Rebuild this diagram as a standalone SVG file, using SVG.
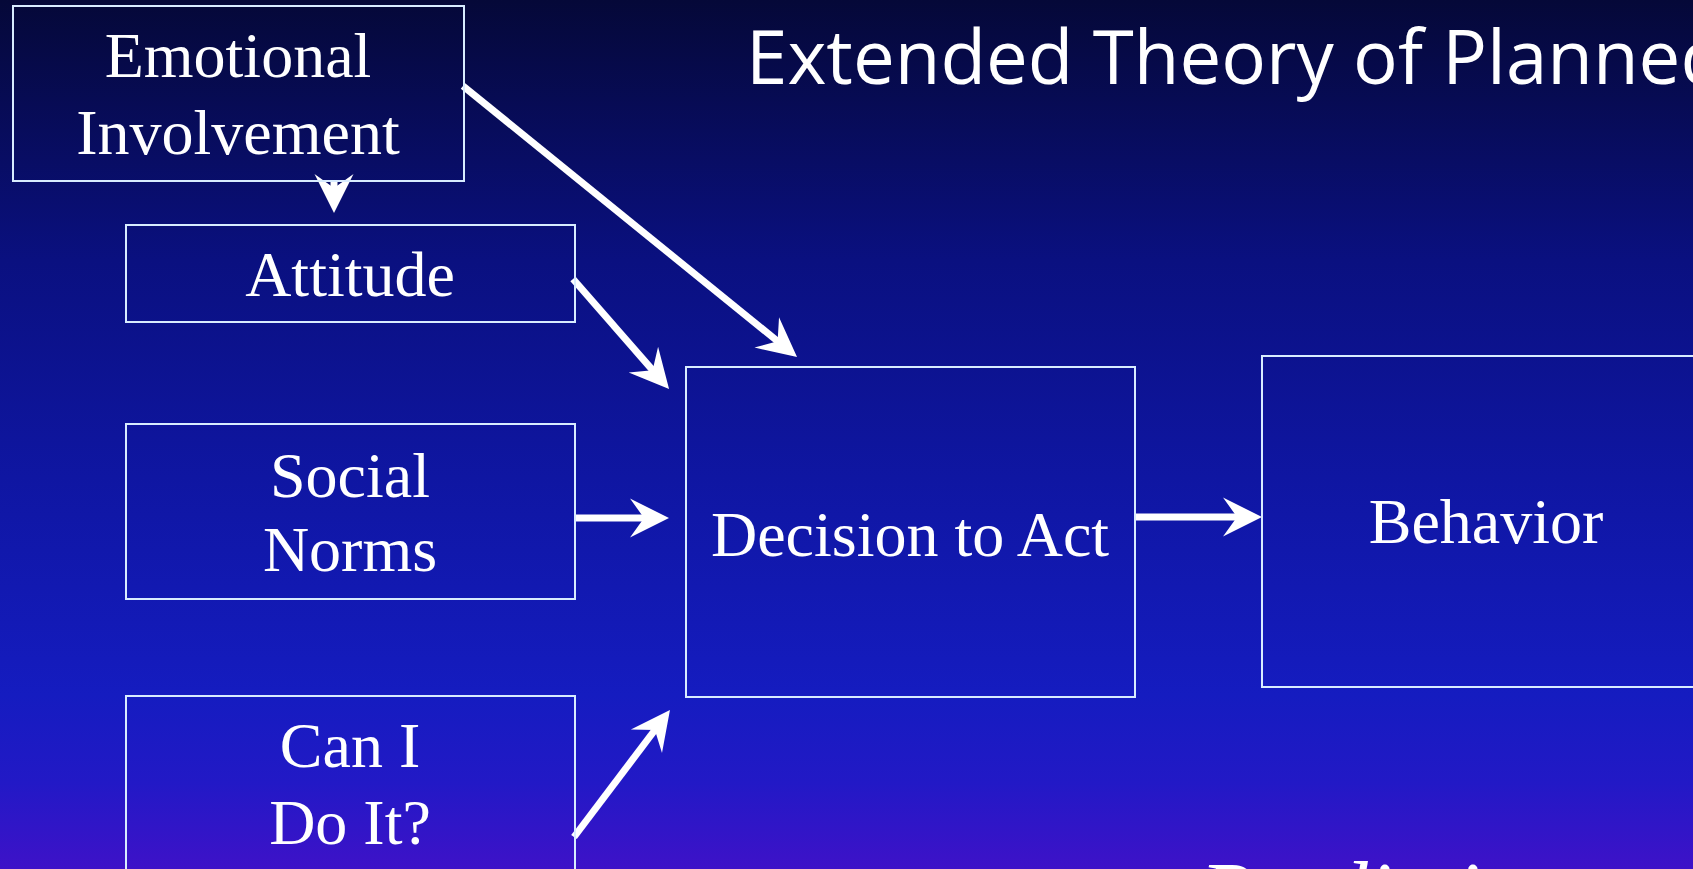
<svg xmlns="http://www.w3.org/2000/svg" width="1693" height="869" viewBox="0 0 1693 869">
  <defs>
    <linearGradient id="bg" x1="0" y1="0" x2="0" y2="1">
      <stop offset="0" stop-color="#050838"/>
      <stop offset="0.3" stop-color="#0a1080"/>
      <stop offset="0.55" stop-color="#0f16a2"/>
      <stop offset="0.8" stop-color="#151cc0"/>
      <stop offset="0.9" stop-color="#2219c6"/>
      <stop offset="1" stop-color="#3e12c8"/>
    </linearGradient>
    <marker id="ah" markerUnits="userSpaceOnUse" markerWidth="60" markerHeight="60" viewBox="-30 -30 60 60" refX="0" refY="0" orient="auto" overflow="visible">
      <path d="M20,0 L-19,-19.5 L-5,0 L-19,19.5 Z" fill="#ffffff"/>
    </marker>
  </defs>
  <style>
    .box { fill: none; stroke: #d8ecff; stroke-width: 2; }
    .lbl { font-family: "Liberation Serif", "Times New Roman", serif; font-size: 64px; fill: #ffffff; text-anchor: middle; }
    .title { font-family: "Open Sans", "Noto Sans", sans-serif; font-size: 75px; fill: #ffffff; }
    .conn { stroke: #ffffff; stroke-width: 7; fill: none; marker-end: url(#ah); }
    .bottom { font-family: "Liberation Serif", "Times New Roman", serif; font-style: italic; font-size: 88px; fill: #ffffff; }
  </style>
  <rect x="0" y="0" width="1693" height="869" fill="url(#bg)"/>

  <text class="title" x="746" y="84" textLength="980" lengthAdjust="spacingAndGlyphs">Extended Theory of Planned</text>

  <g id="connectors">
    <line class="conn" x1="334" y1="181" x2="334" y2="193"/>
    <line class="conn" x1="463" y1="86" x2="781.5" y2="344.4"/>
    <line class="conn" x1="573" y1="279" x2="655.9" y2="373.9"/>
    <line class="conn" x1="575" y1="518" x2="649" y2="518"/>
    <line class="conn" x1="574" y1="837" x2="657.9" y2="726"/>
    <line class="conn" x1="1136" y1="517" x2="1242" y2="517"/>
  </g>

  <g id="emotional">
    <rect class="box" x="13" y="6" width="451" height="175"/>
    <text class="lbl" x="238" y="77">Emotional</text>
    <text class="lbl" x="238" y="154">Involvement</text>
  </g>
  <g id="attitude">
    <rect class="box" x="126" y="225" width="449" height="97"/>
    <text class="lbl" x="350" y="296">Attitude</text>
  </g>
  <g id="social-norms">
    <rect class="box" x="126" y="424" width="449" height="175"/>
    <text class="lbl" x="350" y="497">Social</text>
    <text class="lbl" x="350" y="571">Norms</text>
  </g>
  <g id="can-i-do-it">
    <rect class="box" x="126" y="696" width="449" height="200"/>
    <text class="lbl" x="350" y="767">Can I</text>
    <text class="lbl" x="350" y="844">Do It?</text>
  </g>
  <g id="decision">
    <rect class="box" x="686" y="367" width="449" height="330"/>
    <text class="lbl" x="910" y="556">Decision to Act</text>
  </g>
  <g id="behavior">
    <rect class="box" x="1262" y="356" width="449" height="331"/>
    <text class="lbl" x="1486" y="543">Behavior</text>
  </g>

  <text class="bottom" x="1200" y="923">Predictions</text>
</svg>
